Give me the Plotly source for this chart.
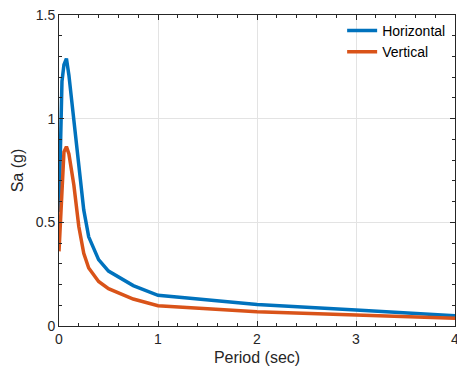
import plotly.graph_objects as go

period = [0, 0.01, 0.02, 0.03, 0.05, 0.075, 0.1, 0.15, 0.2, 0.25, 0.3, 0.4, 0.5, 0.75, 1.0, 2.0, 3.0, 4.0]
horizontal = [0.55, 0.78, 1.02, 1.18, 1.26, 1.29, 1.21, 1.0, 0.76, 0.56, 0.43, 0.32, 0.265, 0.195, 0.148, 0.104, 0.077, 0.05]
vertical = [0.36, 0.45, 0.58, 0.70, 0.84, 0.865, 0.83, 0.68, 0.48, 0.35, 0.28, 0.215, 0.18, 0.13, 0.098, 0.069, 0.053, 0.037]

x_ticks = [0, 1, 2, 3, 4]
y_ticks = [0, 0.5, 1, 1.5]
x_tick_labels = ["0", "1", "2", "3", "4"]
y_tick_labels = ["0", "0.5", "1", "1.5"]

axis_color = "#262626"
font_family = "Liberation Sans, Arial, sans-serif"

fig = go.Figure()
fig.add_trace(go.Scatter(x=period, y=horizontal, mode="lines", name="Horizontal",
                         line=dict(color="#0072BD", width=3.5)))
fig.add_trace(go.Scatter(x=period, y=vertical, mode="lines", name="Vertical",
                         line=dict(color="#D95319", width=3.5)))

common = dict(showline=True, linecolor=axis_color, linewidth=1, mirror="ticks",
              ticks="inside", ticklen=5, tickcolor=axis_color, tickwidth=1,
              showgrid=True, gridcolor="#e3e3e3", gridwidth=1, zeroline=False,
              ticklabeloverflow="allow",
              tickfont=dict(size=14, color=axis_color, family=font_family))

fig.update_xaxes(range=[0, 4], tickvals=x_ticks, ticktext=x_tick_labels,
                 minor=dict(ticks="inside", dtick=0.2, ticklen=3, tickcolor=axis_color, showgrid=False),
                 title=dict(text="Period (sec)", font=dict(size=16, color=axis_color, family=font_family), standoff=6),
                 **common)
fig.update_yaxes(range=[0, 1.5], tickvals=y_ticks, ticktext=y_tick_labels,
                 minor=dict(ticks="inside", dtick=0.1, ticklen=3, tickcolor=axis_color, showgrid=False),
                 title=dict(text="Sa (g)", font=dict(size=16, color=axis_color, family=font_family), standoff=8),
                 **common)

fig.update_layout(
    width=459, height=371,
    margin=dict(l=59, r=0, t=15, b=45),
    paper_bgcolor="white", plot_bgcolor="white",
    font=dict(family=font_family, color=axis_color),
    legend=dict(x=0.715, y=1.0, xanchor="left", yanchor="top", bgcolor="rgba(0,0,0,0)",
                font=dict(size=14, color="#000000", family=font_family), tracegroupgap=0,
                itemwidth=30),
    showlegend=True,
)

fig.write_html(
    "out.html",
    config={"displayModeBar": False},
    post_script=(
        "document.body.style.margin='0';"
        "document.body.style.overflow='hidden';"
        "document.documentElement.style.overflow='hidden';"
    ),
)
